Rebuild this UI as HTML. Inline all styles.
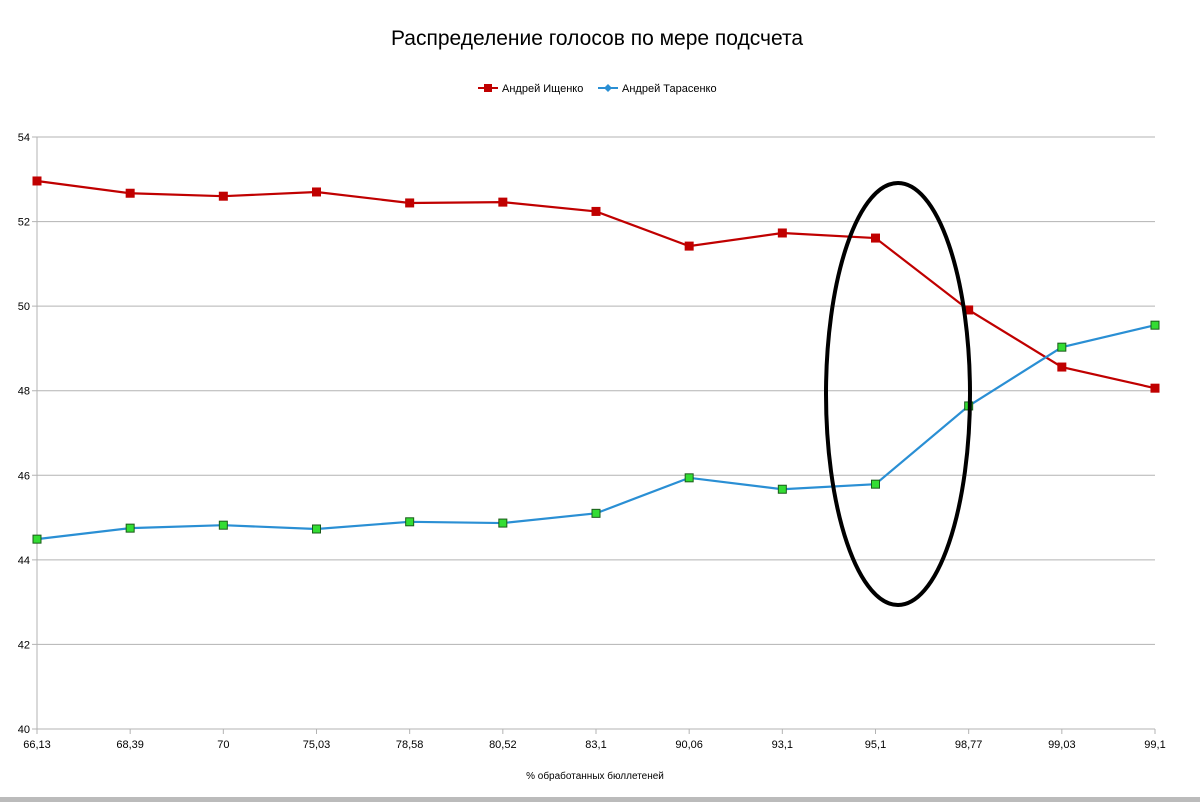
<!DOCTYPE html>
<html><head><meta charset="utf-8"><style>
body{margin:0;background:#fff;width:1200px;height:802px;overflow:hidden;font-family:"Liberation Sans","DejaVu Sans",sans-serif}
</style></head><body>
<svg id="chart" width="1200" height="802" xmlns="http://www.w3.org/2000/svg">
<text x="597" y="45" text-anchor="middle" font-size="21" fill="#000">Распределение голосов по мере подсчета</text>
<g>
<g>
<line x1="478" y1="88" x2="498" y2="88" stroke="#c00000" stroke-width="2"/><rect x="484" y="84" width="8" height="8" fill="#c00000"/>
<text x="502" y="92" font-size="11" fill="#000">Андрей Ищенко</text></g>
<g>
<line x1="598" y1="88" x2="618" y2="88" stroke="#2a8fd4" stroke-width="2"/><path d="M608 84 L612 88 L608 92 L604 88Z" fill="#2a8fd4"/>
<text x="622" y="92" font-size="11" fill="#000">Андрей Тарасенко</text></g>
</g>
<g id="grid"></g><g id="axes"></g><g id="series"></g>
<ellipse cx="898" cy="394" rx="72" ry="211" fill="none" stroke="#000" stroke-width="4"/>
<text x="595" y="779" text-anchor="middle" font-size="10" fill="#000">% обработанных бюллетеней</text>
<rect x="0" y="797" width="1200" height="5" fill="#bbb"/>
</svg>
<script>
const categories=["66,13","68,39","70","75,03","78,58","80,52","83,1","90,06","93,1","95,1","98,77","99,03","99,1"];
const ishchenko=[52.96,52.67,52.6,52.7,52.44,52.46,52.24,51.42,51.73,51.61,49.91,48.56,48.06];
const tarasenko=[44.49,44.75,44.82,44.73,44.9,44.87,45.1,45.94,45.67,45.79,47.64,49.03,49.55];
const yTicks=[40,42,44,46,48,50,52,54];
const NS="http://www.w3.org/2000/svg";
const x0=37,x1=1155,y0=729,y1=137,yMin=40,yMax=54;
const xs=i=>x0+i*(x1-x0)/(categories.length-1);
const ys=v=>y0-(v-yMin)/(yMax-yMin)*(y0-y1);
function mk(t,a,p){const e=document.createElementNS(NS,t);for(const k in a)e.setAttribute(k,a[k]);p.appendChild(e);return e;}
const grid=document.getElementById('grid'),axes=document.getElementById('axes'),ser=document.getElementById('series');
yTicks.forEach(v=>{
const l=mk('line',{x1:x0-5,x2:x1,y1:ys(v),y2:ys(v),stroke:'#b3b3b3','stroke-width':1},grid);


const t=mk('text',{x:x0-7,y:ys(v)+4,'text-anchor':'end','font-size':11},axes);t.textContent=v;


});
mk('line',{x1:x0,x2:x0,y1:y1,y2:y0,stroke:'#b3b3b3'},axes);
categories.forEach((c,i)=>{
mk('line',{x1:xs(i),x2:xs(i),y1:y0,y2:y0+5,stroke:'#b3b3b3'},axes);
const t=mk('text',{x:xs(i),y:y0+19,'text-anchor':'middle','font-size':11},axes);t.textContent=c;


});
function series(vals,col,name,marker){
const p=mk('polyline',{points:vals.map((v,i)=>xs(i)+','+ys(v)).join(' '),fill:'none',stroke:col,'stroke-width':2.2},ser);


vals.forEach((v,i)=>{
const r=marker==='red'?mk('rect',{x:xs(i)-4.5,y:ys(v)-4.5,width:9,height:9,fill:'#c00000'},ser):mk('rect',{x:xs(i)-4,y:ys(v)-4,width:8,height:8,fill:'#33dd33',stroke:'#1a5a1a','stroke-width':1},ser);


});}
series(ishchenko,'#c00000','ishchenko','red');
series(tarasenko,'#2a8fd4','tarasenko','green');
</script>
</body></html>
